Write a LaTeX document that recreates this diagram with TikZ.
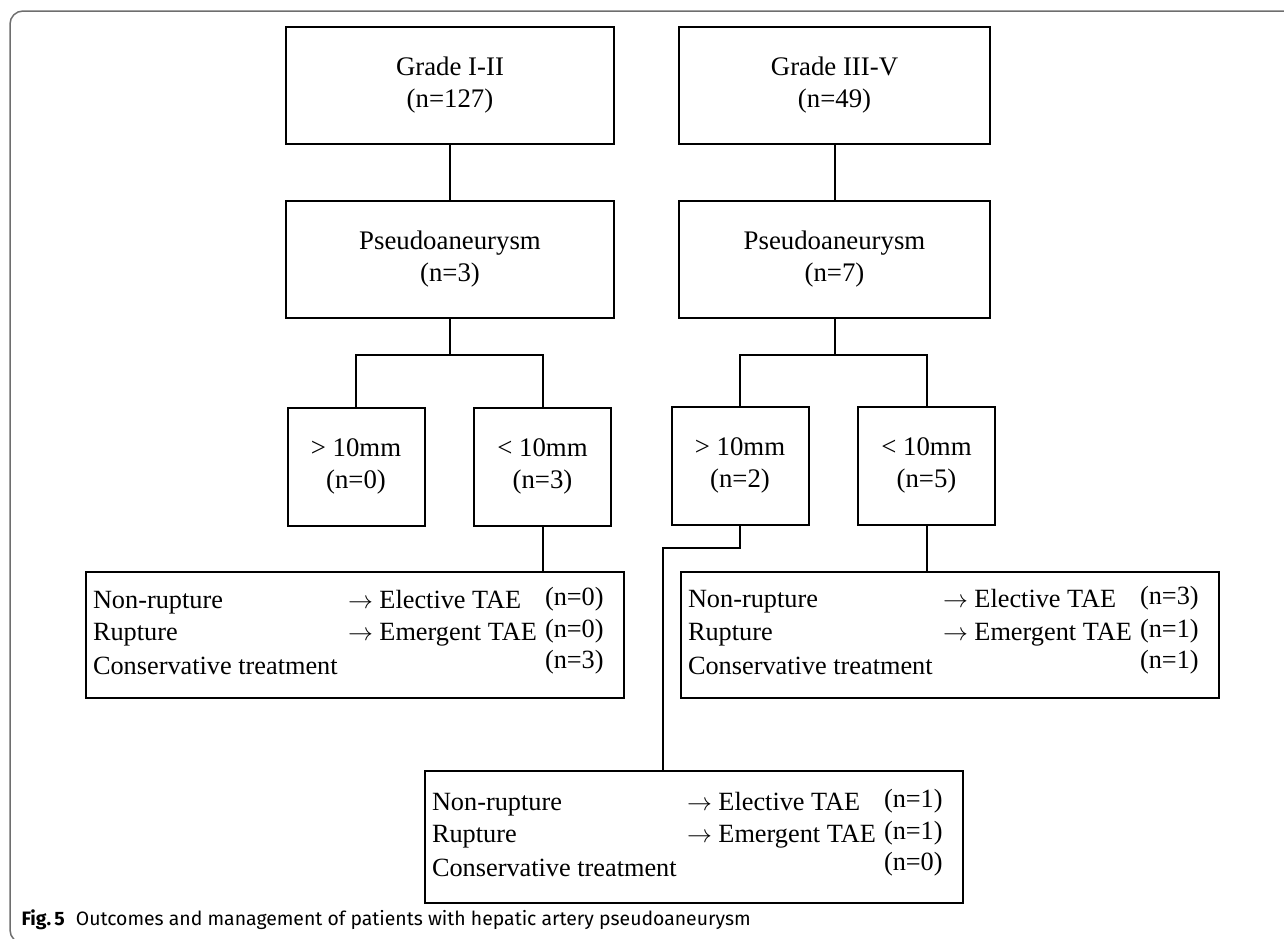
\documentclass[tikz,border=0pt]{standalone}
\usepackage{fontspec}
\setmainfont{Liberation Serif}
\newfontfamily\capfont{Fira Sans}
\definecolor{framegray}{RGB}{110,110,110}

% text of the three outcome boxes
\newcommand{\outcomes}[3]{%
  \begin{tabular}{@{}p{255pt}@{}p{197pt}@{}p{72pt}@{}}
  Non-rupture & $\rightarrow$ Elective TAE & \raisebox{3pt}{(n=#1)}\\
  Rupture & $\rightarrow$ Emergent TAE & \raisebox{3pt}{(n=#2)}\\
  Conservative treatment & & \raisebox{6pt}{(n=#3)}
  \end{tabular}}

\begin{document}
\begin{tikzpicture}[x=1pt,y=-1pt,
  every node/.style={font=\fontsize{26.8}{32}\selectfont},
  stage/.style={draw,line width=2pt,minimum width=328pt,minimum height=117pt,align=center,inner sep=0pt},
  sizebox/.style={draw,line width=2pt,minimum width=137pt,minimum height=118pt,align=center,inner sep=0pt},
  outcome/.style={draw,line width=2pt,minimum width=538pt,minimum height=126pt,inner xsep=7pt,inner ysep=0pt,
    font=\fontsize{26.3}{32.5}\selectfont},
  link/.style={line width=2pt}]
  \useasboundingbox (0,0) rectangle (1284,938);
  \draw[framegray,line width=1.5pt,rounded corners=13pt] (1300,11) -- (10,11) -- (10,943) -- (60,943);

  % grades
  \node[stage] (g1) at (450,85.5) {Grade I-II\\(n=127)};
  \node[stage,minimum width=311pt] (g2) at (834.5,85.5) {Grade III-V\\(n=49)};
  \node[stage] (p1) at (450,259.5) {Pseudoaneurysm\\(n=3)};
  \node[stage,minimum width=311pt] (p2) at (834.5,259.5) {Pseudoaneurysm\\(n=7)};

  % sizes
  \node[sizebox] (s1) at (356,466.5) {> 10mm\\(n=0)};
  \node[sizebox] (s2) at (542.5,466.5) {< 10mm\\(n=3)};
  \node[sizebox] (s3) at (740,465.5) {> 10mm\\(n=2)};
  \node[sizebox] (s4) at (926.5,465.5) {< 10mm\\(n=5)};

  % outcomes
  \node[outcome] (lbox) at (355,635) {\outcomes{0}{0}{3}};
  \node[outcome] (rbox) at (950,634.5) {\outcomes{3}{1}{1}};
  \node[outcome,minimum height=132pt] (bbox) at (694,837) {\outcomes{1}{1}{0}};

  \coordinate (j1) at (450,355);
  \coordinate (j2) at (834.5,355);
  \coordinate (bend) at (663,548);

  \draw[link] (g1) -- (p1);
  \draw[link] (g2) -- (p2);
  \draw[link] (p1) -- (j1);
  \draw[link] (p2) -- (j2);
  \draw[link] (s1.north) |- (j1) -| (s2.north);
  \draw[link] (s3.north) |- (j2) -| (s4.north);
  \draw[link] (s2.south) -- (s2.south |- lbox.north);
  \draw[link] (s4.south) -- (s4.south |- rbox.north);
  \draw[link] (s3.south) |- (bend) -- (bend |- bbox.north);

  \node[anchor=base west,font=\capfont\fontsize{19.4}{23}\selectfont] (caption) at (18,925)
    {\textbf{Fig.\,5}\hspace{11pt}Outcomes and management of patients with hepatic artery pseudoaneurysm};
\end{tikzpicture}
\end{document}
